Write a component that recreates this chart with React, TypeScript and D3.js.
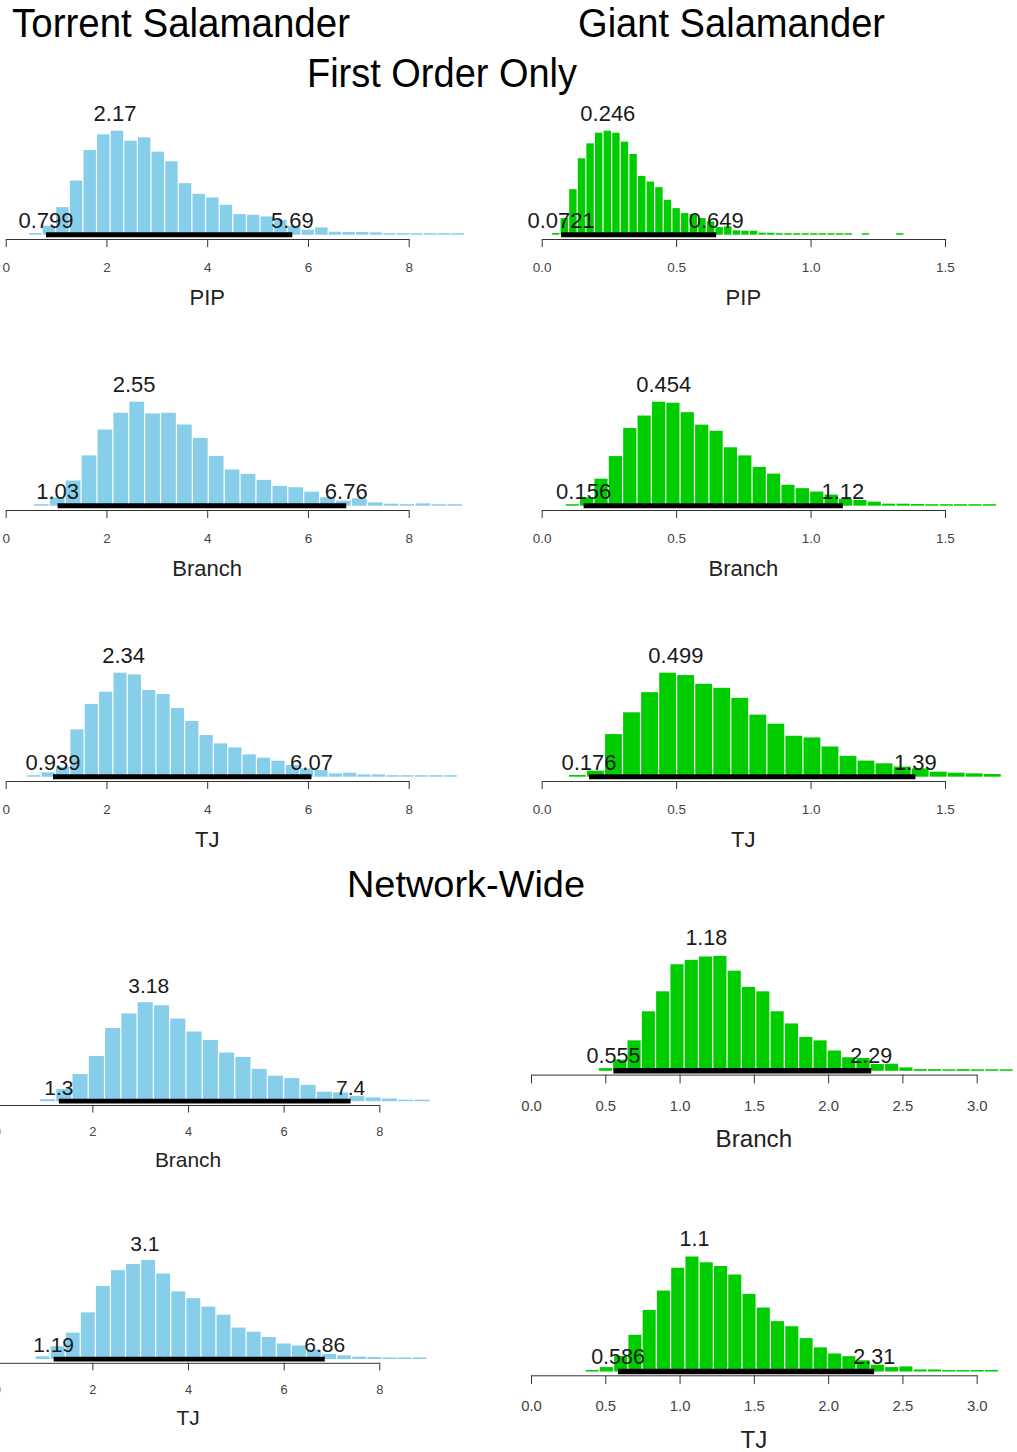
import React, { useRef, useEffect } from "react";
import * as d3 from "d3";

// histogram bin counts (relative frequencies)
const torrentPipCounts = [5, 27, 83, 163, 255, 302, 313, 283, 293, 250, 221, 155, 123, 112, 90, 62, 60, 55, 45, 27, 15, 22, 9, 8, 8, 7, 3, 1, 2, 1, 4, 1];
const giantPipCounts = [5, 50, 137, 230, 275, 307, 313, 307, 280, 243, 177, 160, 143, 105, 80, 65, 62, 50, 40, 23, 25, 13, 12, 12, 6, 6, 4, 3, 3, 2, 2, 1, 1, 1, 1, 0, 1, 0, 0, 0, 1];
const torrentBranchCounts = [2, 25, 75, 150, 227, 277, 310, 275, 277, 242, 202, 148, 108, 95, 77, 59, 55, 42, 25, 15, 22, 10, 6, 3, 7, 3, 1];
const giantBranchCounts = [2, 25, 80, 147, 230, 267, 308, 305, 277, 240, 222, 173, 149, 115, 95, 62, 52, 42, 33, 20, 17, 12, 6, 6, 5, 2, 2, 2, 1, 1];
const torrentTjCounts = [2, 13, 30, 142, 218, 255, 312, 307, 260, 248, 206, 167, 125, 100, 88, 67, 57, 48, 35, 25, 20, 10, 12, 7, 7, 4, 4, 2, 2, 1];
const giantTjCounts = [5, 18, 127, 192, 252, 310, 303, 277, 265, 235, 185, 158, 122, 117, 90, 62, 48, 40, 30, 25, 15, 12, 10, 8];
const torrentNetBranchCounts = [6, 36, 80, 133, 215, 258, 291, 282, 243, 205, 180, 143, 130, 95, 75, 68, 48, 28, 26, 15, 11, 8, 4, 3];
const giantNetBranchCounts = [8, 33, 90, 176, 235, 315, 328, 338, 340, 296, 248, 235, 176, 140, 100, 90, 60, 40, 38, 20, 21, 10, 5, 5, 3, 5, 1, 1, 2];
const torrentNetTjCounts = [8, 38, 78, 138, 216, 263, 281, 293, 253, 200, 180, 155, 131, 93, 81, 65, 46, 40, 28, 15, 11, 7, 6, 2, 1, 2];
const giantNetTjCounts = [1, 13, 46, 108, 181, 238, 305, 338, 321, 310, 285, 228, 188, 148, 133, 98, 71, 53, 45, 33, 20, 13, 15, 6, 6, 2, 2, 1, 1];

// first break and bin width of each histogram
const torrentPipBreaks = [0.45, 0.2705];
const giantPipBreaks = [0.036, 0.032];
const torrentBranchBreaks = [0.548, 0.3157];
const giantBranchBreaks = [0.0868, 0.0535];
const torrentTjBreaks = [0.417, 0.285];
const giantTjBreaks = [0.0992, 0.0671];
const torrentNetBranchBreaks = [0.892, 0.3405];
const giantNetBranchBreaks = [0.453, 0.0963];
const torrentNetTjBreaks = [0.801, 0.3153];
const giantNetTjBreaks = [0.3635, 0.096];

// mode, HDI low, HDI high
const torrentPipStats = [2.17, 0.799, 5.69];
const giantPipStats = [0.246, 0.0721, 0.649];
const torrentBranchStats = [2.55, 1.03, 6.76];
const giantBranchStats = [0.454, 0.156, 1.12];
const torrentTjStats = [2.34, 0.939, 6.07];
const giantTjStats = [0.499, 0.176, 1.39];
const torrentNetBranchStats = [3.18, 1.3, 7.4];
const giantNetBranchStats = [1.18, 0.555, 2.29];
const torrentNetTjStats = [3.1, 1.19, 6.86];
const giantNetTjStats = [1.1, 0.586, 2.31];

const torrentTicks = [0, 2, 4, 6, 8];
const giantTicks = [0, 0.5, 1.0, 1.5];
const giantNetTicks = [0, 0.5, 1.0, 1.5, 2.0, 2.5, 3.0];

const BLUE = "#87CEEB";
const GREEN = "#00CD00";
const FONT = "'Liberation Sans', Arial, Helvetica, sans-serif";

interface Layout { x0: number; x1: number; hdiY: number; axisY: number; maxH: number; s: number; lab: number; }

interface HistProps {
  counts: number[];
  breaks: number[];
  stats: number[];
  ticks: number[];
  fmt: (d: number) => string;
  xlabel: string;
  color: string;
  L: Layout;
}

const Hist: React.FC<HistProps> = ({ counts, breaks, stats, ticks, fmt, xlabel, color, L }) => {
  const ref = useRef<SVGGElement | null>(null);

  useEffect(() => {
    if (!ref.current) return;
    const g = d3.select(ref.current);
    g.selectAll("*").remove();

    const x = d3.scaleLinear().domain([ticks[0], ticks[ticks.length - 1]]).range([L.x0, L.x1]);
    const y = d3.scaleLinear().domain([0, d3.max(counts) || 1]).range([L.hdiY, L.hdiY - L.maxH]);

    const bins = counts.map((c, i) => ({ a: breaks[0] + i * breaks[1], b: breaks[0] + (i + 1) * breaks[1], c }));

    g.selectAll("rect")
      .data(bins.filter((d) => d.c > 0))
      .enter()
      .append("rect")
      .attr("x", (d) => x(d.a) + 0.6)
      .attr("width", (d) => Math.max(0, x(d.b) - x(d.a) - 1.2))
      .attr("y", (d) => Math.min(y(d.c), L.hdiY - 1.5))
      .attr("height", (d) => Math.max(1.5, L.hdiY - y(d.c)))
      .attr("fill", color);

    // HDI bar
    g.append("line")
      .attr("x1", x(stats[1]))
      .attr("x2", x(stats[2]))
      .attr("y1", L.hdiY)
      .attr("y2", L.hdiY)
      .attr("stroke", "#000")
      .attr("stroke-width", 5 * L.s);

    const txt = (v: number, yy: number) =>
      g.append("text")
        .attr("x", x(v))
        .attr("y", yy)
        .attr("text-anchor", "middle")
        .attr("font-family", FONT)
        .attr("font-size", L.lab)
        .attr("fill", "#1a1a1a")
        .text(String(v));

    txt(stats[0], L.hdiY - L.maxH - 10 * L.s);
    txt(stats[1], L.hdiY - 7 * L.s);
    txt(stats[2], L.hdiY - 7 * L.s);

    // axis
    const axis = d3.axisBottom(x).tickValues(ticks).tickFormat((d) => fmt(d as number)).tickSize(8 * L.s).tickSizeOuter(0);
    const ax = g.append("g").attr("transform", `translate(0,${L.axisY})`).call(axis);
    ax.select(".domain").attr("stroke", "#333");
    ax.selectAll(".tick line").attr("stroke", "#333");
    ax.selectAll(".tick text")
      .attr("y", 28 * L.s)
      .attr("dy", "0.35em")
      .attr("fill", "#444")
      .attr("font-family", FONT)
      .attr("font-size", 13.5 * L.s);

    g.append("text")
      .attr("x", x((ticks[0] + ticks[ticks.length - 1]) / 2))
      .attr("y", L.axisY + 58 * L.s)
      .attr("dy", "0.35em")
      .attr("text-anchor", "middle")
      .attr("font-family", FONT)
      .attr("font-size", 22 * L.s)
      .attr("fill", "#222")
      .text(xlabel);
  });

  return <g ref={ref} />;
};

const fmtInt = (d: number) => d3.format("d")(d);
const fmt1 = (d: number) => d3.format(".1f")(d);

const leftRow = (hdiY: number): Layout => ({ x0: 5.7, x1: 408.7, hdiY, axisY: hdiY + 4.3, maxH: 104, s: 1, lab: 22 });
const rightRow = (hdiY: number): Layout => ({ x0: 541.7, x1: 945, hdiY, axisY: hdiY + 4.3, maxH: 104, s: 1, lab: 22 });
const leftNet = (hdiY: number): Layout => ({ x0: -3.3, x1: 379.3, hdiY, axisY: hdiY + 3.8, maxH: 99, s: 0.95, lab: 21 });
const rightNet = (hdiY: number): Layout => ({ x0: 531, x1: 976.7, hdiY, axisY: hdiY + 3.8, maxH: 115, s: 1.1, lab: 21.5 });

export default function App() {
  return (
    <svg width={1017} height={1452} style={{ position: "absolute", left: 0, top: 0, background: "#fff" }}>
      <text x={12} y={37} fontFamily={FONT} fontSize={40} textLength={338} lengthAdjust="spacingAndGlyphs" fill="#000">Torrent Salamander</text>
      <text x={578} y={37} fontFamily={FONT} fontSize={40} textLength={307} lengthAdjust="spacingAndGlyphs" fill="#000">Giant Salamander</text>
      <text x={307} y={87} fontFamily={FONT} fontSize={40} textLength={270} lengthAdjust="spacingAndGlyphs" fill="#000">First Order Only</text>
      <text x={347} y={897} fontFamily={FONT} fontSize={36} textLength={238} lengthAdjust="spacingAndGlyphs" fill="#000">Network-Wide</text>

      <Hist counts={torrentPipCounts} breaks={torrentPipBreaks} stats={torrentPipStats} ticks={torrentTicks} fmt={fmtInt} xlabel="PIP" color={BLUE} L={leftRow(234.7)} />
      <Hist counts={giantPipCounts} breaks={giantPipBreaks} stats={giantPipStats} ticks={giantTicks} fmt={fmt1} xlabel="PIP" color={GREEN} L={rightRow(234.7)} />
      <Hist counts={torrentBranchCounts} breaks={torrentBranchBreaks} stats={torrentBranchStats} ticks={torrentTicks} fmt={fmtInt} xlabel="Branch" color={BLUE} L={leftRow(505.7)} />
      <Hist counts={giantBranchCounts} breaks={giantBranchBreaks} stats={giantBranchStats} ticks={giantTicks} fmt={fmt1} xlabel="Branch" color={GREEN} L={rightRow(505.7)} />
      <Hist counts={torrentTjCounts} breaks={torrentTjBreaks} stats={torrentTjStats} ticks={torrentTicks} fmt={fmtInt} xlabel="TJ" color={BLUE} L={leftRow(776.7)} />
      <Hist counts={giantTjCounts} breaks={giantTjBreaks} stats={giantTjStats} ticks={giantTicks} fmt={fmt1} xlabel="TJ" color={GREEN} L={rightRow(776.7)} />

      <Hist counts={torrentNetBranchCounts} breaks={torrentNetBranchBreaks} stats={torrentNetBranchStats} ticks={torrentTicks} fmt={fmtInt} xlabel="Branch" color={BLUE} L={leftNet(1101.2)} />
      <Hist counts={giantNetBranchCounts} breaks={giantNetBranchBreaks} stats={giantNetBranchStats} ticks={giantNetTicks} fmt={fmt1} xlabel="Branch" color={GREEN} L={rightNet(1070.8)} />
      <Hist counts={torrentNetTjCounts} breaks={torrentNetTjBreaks} stats={torrentNetTjStats} ticks={torrentTicks} fmt={fmtInt} xlabel="TJ" color={BLUE} L={leftNet(1359)} />
      <Hist counts={giantNetTjCounts} breaks={giantNetTjBreaks} stats={giantNetTjStats} ticks={giantNetTicks} fmt={fmt1} xlabel="TJ" color={GREEN} L={rightNet(1371.5)} />
    </svg>
  );
}
